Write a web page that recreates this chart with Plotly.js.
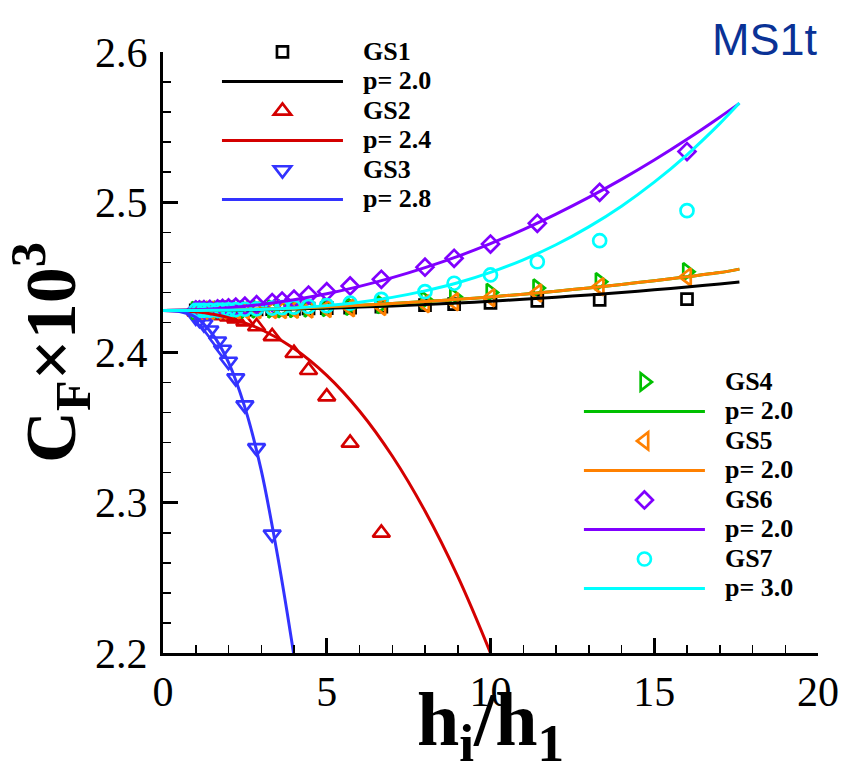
<!DOCTYPE html>
<html><head><meta charset="utf-8">
<script src="https://cdn.plot.ly/plotly-3.0.1.min.js"></script>
<style>html,body{margin:0;padding:0;background:#fff}</style>
</head><body><div id="chart" style="width:848px;height:773px"></div>
<script>
// ---- grid-refinement ratios h_i/h_1 ----
const xAll = [1, 1.111, 1.25, 1.429, 1.667, 1.818, 2, 2.222, 2.5, 2.857, 3.333, 3.636, 4, 4.444, 5, 5.714, 6.667, 8, 8.889, 10, 11.429, 13.333, 16];
const xGS2 = [1, 1.111, 1.25, 1.429, 1.667, 1.818, 2, 2.222, 2.5, 2.857, 3.333, 4, 4.444, 5, 5.714, 6.667];
const xGS3 = [1, 1.111, 1.25, 1.429, 1.667, 1.818, 2, 2.222, 2.5, 2.857, 3.333];

// ---- C_F x 10^3 data (markers) ----
const yGS1 = [2.4280, 2.4280, 2.4281, 2.4281, 2.4282, 2.4283, 2.4283, 2.4284, 2.4285, 2.4287, 2.4289, 2.4290, 2.4291, 2.4293, 2.4295, 2.4299, 2.4305, 2.4315, 2.4322, 2.4330, 2.4343, 2.4350, 2.4355];
const yGS2 = [2.4272, 2.4270, 2.4266, 2.4261, 2.4253, 2.4247, 2.4238, 2.4226, 2.4206, 2.4173, 2.4107, 2.3995, 2.3882, 2.3706, 2.3398, 2.2799];
const yGS3 = [2.4235, 2.4220, 2.4190, 2.4148, 2.4075, 2.4020, 2.3940, 2.3830, 2.3650, 2.3365, 2.2790];
const yGS4 = [2.4280, 2.4281, 2.4281, 2.4282, 2.4283, 2.4284, 2.4285, 2.4286, 2.4287, 2.4289, 2.4290, 2.4291, 2.4293, 2.4296, 2.4300, 2.4308, 2.4320, 2.4350, 2.4371, 2.4400, 2.4429, 2.4471, 2.4538];
const yGS5 = [2.4280, 2.4280, 2.4281, 2.4281, 2.4282, 2.4282, 2.4283, 2.4283, 2.4284, 2.4285, 2.4286, 2.4286, 2.4287, 2.4289, 2.4293, 2.4298, 2.4306, 2.4325, 2.4338, 2.4365, 2.4396, 2.4438, 2.4503];
const yGS6 = [2.4283, 2.4284, 2.4285, 2.4287, 2.4290, 2.4293, 2.4297, 2.4302, 2.4308, 2.4318, 2.4332, 2.4342, 2.4355, 2.4382, 2.4405, 2.4443, 2.4487, 2.4568, 2.4627, 2.4722, 2.4860, 2.5066, 2.5337];
const yGS7 = [2.4280, 2.4280, 2.4281, 2.4281, 2.4282, 2.4283, 2.4284, 2.4286, 2.4288, 2.4291, 2.4296, 2.4299, 2.4302, 2.4306, 2.4312, 2.4328, 2.4354, 2.4405, 2.4461, 2.4516, 2.4604, 2.4744, 2.4944];

// ---- Richardson fit curves ----
const xFit = [0, 1, 2, 3, 4, 5, 6, 7, 8, 9, 10, 11, 12, 13, 14, 15, 16, 17, 17.6];
const fitGS1 = [2.4280, 2.4281, 2.4282, 2.4285, 2.4290, 2.4295, 2.4302, 2.4310, 2.4319, 2.4329, 2.4341, 2.4354, 2.4368, 2.4383, 2.4400, 2.4417, 2.4436, 2.4456, 2.4469];
const fitGS4 = [2.4280, 2.4281, 2.4284, 2.4289, 2.4295, 2.4304, 2.4314, 2.4326, 2.4339, 2.4354, 2.4370, 2.4388, 2.4408, 2.4430, 2.4453, 2.4478, 2.4504, 2.4532, 2.4555];
const fitGS5 = [2.4280, 2.4281, 2.4284, 2.4289, 2.4295, 2.4304, 2.4314, 2.4326, 2.4339, 2.4354, 2.4370, 2.4388, 2.4408, 2.4430, 2.4453, 2.4478, 2.4504, 2.4532, 2.4555];
const fitGS6 = [2.4280, 2.4284, 2.4298, 2.4320, 2.4351, 2.4391, 2.4440, 2.4498, 2.4565, 2.4640, 2.4725, 2.4818, 2.4921, 2.5032, 2.5152, 2.5281, 2.5419, 2.5566, 2.5658];
const fitGS7 = [2.4280, 2.4280, 2.4282, 2.4287, 2.4296, 2.4312, 2.4335, 2.4367, 2.4410, 2.4464, 2.4533, 2.4617, 2.4717, 2.4836, 2.4974, 2.5134, 2.5316, 2.5523, 2.5660];
const xFitGS2 = [0, 1, 2, 3, 4, 5, 6, 7, 8, 9, 10, 10.3];
const fitGS2 = [2.4280, 2.4271, 2.4232, 2.4153, 2.4027, 2.3848, 2.3611, 2.3311, 2.2945, 2.2510, 2.2000, 2.1832];
const xFitGS3 = [0, 0.5, 1, 1.5, 2, 2.5, 3, 3.5, 4, 4.1];
const fitGS3 = [2.4280, 2.4273, 2.4235, 2.4125, 2.3935, 2.3635, 2.3215, 2.2645, 2.1980, 2.1830];

const seriesNames = ['GS1', 'GS2', 'GS3', 'GS4', 'GS5', 'GS6', 'GS7'];
const fitNames = ['p= 2.0', 'p= 2.4', 'p= 2.8', 'p= 2.0', 'p= 2.0', 'p= 2.0', 'p= 3.0'];
const xTickVals = [0, 5, 10, 15, 20];
const yTickVals = [2.2, 2.3, 2.4, 2.5, 2.6];

const colors = ['#000000', '#d40000', '#3333ff', '#00c000', '#ff8000', '#8000ff', '#00ffff'];
const symbols = ['square-open', 'triangle-up-open', 'triangle-down-open', 'triangle-right-open', 'triangle-left-open', 'diamond-open', 'circle-open'];
const sizes = [11, 15, 15, 15, 15, 13, 13];

const mx = [xAll, xGS2, xGS3, xAll, xAll, xAll, xAll];
const my = [yGS1, yGS2, yGS3, yGS4, yGS5, yGS6, yGS7];
const fx = [xFit, xFitGS2, xFitGS3, xFit, xFit, xFit, xFit];
const fy = [fitGS1, fitGS2, fitGS3, fitGS4, fitGS5, fitGS6, fitGS7];

const SERIF = '"Liberation Serif", "Times New Roman", Times, serif';
const lbl = t => '<span style="font-size:30px">&nbsp;&nbsp;</span><span style="font-size:26px">' + t + '</span>';

const traces = [];
for (let i = 0; i < 7; i++) {
  const lg = i < 3 ? 'legend' : 'legend2';
  traces.push({
    type: 'scatter', mode: 'markers', x: mx[i], y: my[i], name: lbl(seriesNames[i]),
    legend: lg, legendrank: 2 * i + 1,
    marker: {symbol: symbols[i], size: sizes[i], color: colors[i], line: {color: colors[i], width: 2.7}},
    hoverinfo: 'x+y'
  });
}
for (let i = 0; i < 7; i++) {
  const lg = i < 3 ? 'legend' : 'legend2';
  traces.push({
    type: 'scatter', mode: 'lines', x: fx[i], y: fy[i], name: lbl(fitNames[i]),
    legend: lg, legendrank: 2 * i + 2,
    line: {color: colors[i], width: 3, shape: 'spline', smoothing: 0.8},
    hoverinfo: 'x+y'
  });
}

const tickFont = () => ({family: SERIF, size: 42, color: '#000'});
const legFont = () => ({family: SERIF, size: 20.4, color: '#000', weight: 'bold'});

const layout = {
  width: 848, height: 773,
  margin: {l: 163, r: 30, t: 52, b: 120},
  paper_bgcolor: '#fff', plot_bgcolor: '#fff',
  font: {family: SERIF, color: '#000'},
  showlegend: true,
  xaxis: {
    range: [0, 20], tickmode: 'array', tickvals: xTickVals, ticktext: xTickVals.map(String),
    ticks: 'inside', ticklen: 15, tickwidth: 3, tickcolor: '#000',
    minor: {dtick: 1, tick0: 0, ticks: 'inside', ticklen: 8, tickwidth: 1.5, tickcolor: '#000'},
    showline: true, linewidth: 3, linecolor: '#000', mirror: false,
    showgrid: false, zeroline: false, tickfont: tickFont(),
    title: {text: 'h<sub>i</sub>/h<sub>1</sub>', font: {family: SERIF, size: 76, color: '#000', weight: 'bold'}, standoff: 0}
  },
  yaxis: {
    range: [2.2, 2.6], tickmode: 'array', tickvals: yTickVals, ticktext: yTickVals.map(v => v.toFixed(1)),
    ticks: 'inside', ticklen: 15, tickwidth: 3, tickcolor: '#000',
    minor: {dtick: 0.02, tick0: 2.2, ticks: 'inside', ticklen: 8, tickwidth: 1.5, tickcolor: '#000'},
    showline: true, linewidth: 3, linecolor: '#000', mirror: false,
    showgrid: false, zeroline: false, tickfont: tickFont(), ticklabelstandoff: 4,
    title: {text: 'C<sub>F</sub>×10<sup>3</sup>', font: {family: SERIF, size: 72, color: '#000', weight: 'bold'}, standoff: 4}
  },
  legend: {
    x: 0.0824, y: 1.033, xanchor: 'left', yanchor: 'top', bgcolor: 'rgba(0,0,0,0)',
    font: legFont(), itemwidth: 121, traceorder: 'normal', tracegroupgap: 0
  },
  legend2: {
    x: 0.635, y: 0.484, xanchor: 'left', yanchor: 'top', bgcolor: 'rgba(0,0,0,0)',
    font: legFont(), itemwidth: 121, traceorder: 'normal', tracegroupgap: 0
  },
  annotations: [{
    xref: 'paper', yref: 'paper', x: 0.919, y: 1.02, xanchor: 'center', yanchor: 'middle', showarrow: false,
    text: 'MS1t', font: {family: '"Liberation Sans", Arial, sans-serif', size: 45, color: '#0a3296'}
  }]
};

Plotly.newPlot('chart', traces, layout, {displayModeBar: false, staticPlot: true});
</script></body></html>
